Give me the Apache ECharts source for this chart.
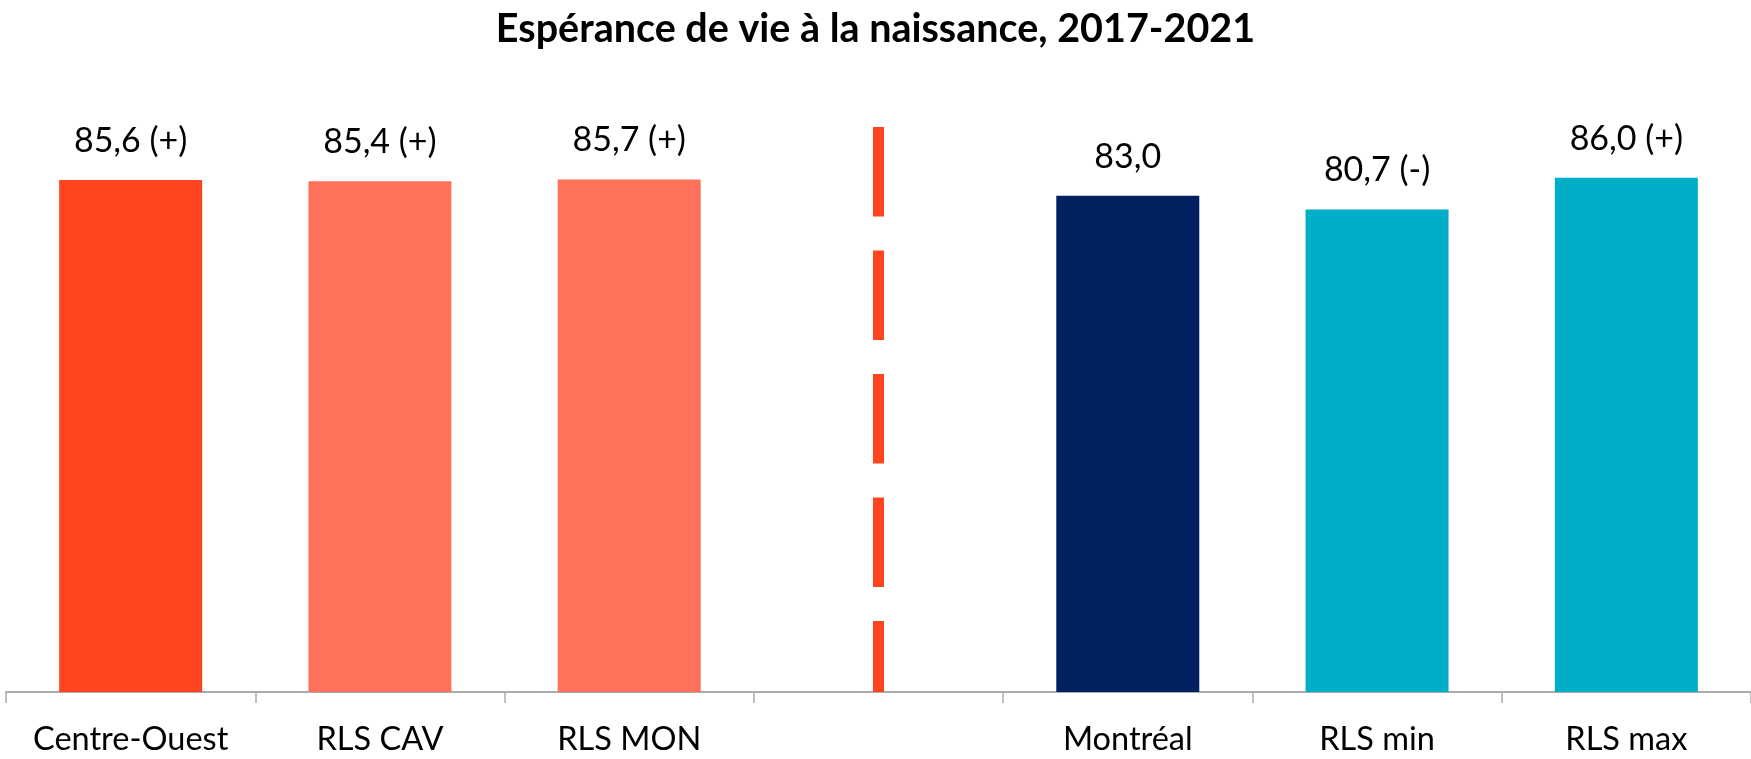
<!DOCTYPE html>
<html>
<head>
<meta charset="utf-8">
<title>Espérance de vie à la naissance, 2017-2021</title>
<script src="https://cdn.jsdelivr.net/npm/echarts@6/dist/echarts.min.js"></script>
<style>
    html, body { margin: 0; padding: 0; background: #fff; }
    #chart { width: 1751px; height: 759px; }
</style>
</head>
<body>
<div id="chart"></div>
<script>
// data
var categories = ['Centre-Ouest', 'RLS CAV', 'RLS MON', '', 'Montréal', 'RLS min', 'RLS max'];
var values = [85.6, 85.4, 85.7, null, 83.0, 80.7, 86.0];
var signif = ['+', '+', '+', '', '', '-', '+'];
// separator sits in the empty category
var separatorIndex = 3;
var separatorTop = 94.5;

var barColors = ['#FF451F', '#FF7158', '#FF7158', '#FFFFFF', '#002060', '#00AEC7', '#00AEC7'];
var font = 'Lato, "Noto Sans", sans-serif';

var chart = echarts.init(document.getElementById('chart'));

chart.setOption({
    animation: false,
    title: {
        text: 'Espérance de vie à la naissance, 2017-2021',
        left: 'center',
        top: 4,
        textStyle: {
            fontFamily: font,
            fontWeight: 'bold',
            fontSize: 39.5,
            color: '#000'
        }
    },
    grid: {
        left: 6,
        right: 0,
        top: 94,
        bottom: 67
    },
    xAxis: {
        type: 'category',
        data: categories,
        axisLine: { lineStyle: { color: '#ABABAB', width: 2 } },
        axisTick: { show: true, interval: 0, length: 11, lineStyle: { color: '#ABABAB', width: 1.5 } },
        axisLabel: {
            interval: 0,
            hideOverlap: false,
            margin: 31,
            fontFamily: font,
            fontSize: 32.5,
            color: '#000'
        }
    },
    yAxis: {
        type: 'value',
        min: 0,
        max: 100,
        show: false
    },
    series: [{
        type: 'bar',
        barWidth: 143,
        data: values.map(function(v, i) {
            return { value: v, itemStyle: { color: barColors[i] } };
        }),
        label: {
            show: true,
            position: 'top',
            distance: 22,
            fontFamily: font,
            fontSize: 34,
            color: '#000',
            formatter: function(p) {
                var s = p.value.toFixed(1).replace('.', ',');
                var sg = signif[p.dataIndex];
                return sg ? s + ' (' + sg + ')' : s;
            }
        },
        emphasis: { disabled: true },
        markLine: {
            silent: true,
            symbol: 'none',
            label: { show: false },
            lineStyle: {
                color: '#FF451F',
                width: 11,
                type: [89.5, 34]
            },
            data: [
                [{ coord: [separatorIndex, separatorTop] }, { coord: [separatorIndex, 0] }]
            ]
        }
    }]
});
</script>
</body>
</html>
